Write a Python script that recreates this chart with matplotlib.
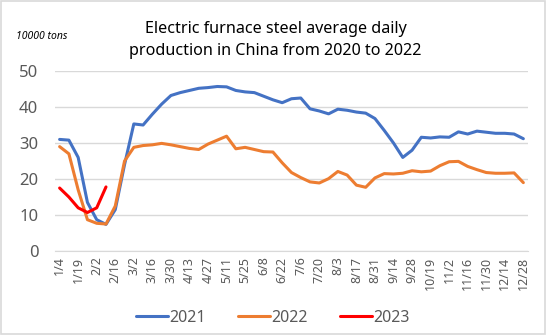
import numpy as np
import matplotlib
matplotlib.use("Agg")
import matplotlib.pyplot as plt
from matplotlib.patches import Rectangle

# --- Data (weekly, 10000 tons) ---
weeks = ["1/4", "1/11", "1/19", "1/26", "2/2", "2/9", "2/16", "2/23",
         "3/2", "3/9", "3/16", "3/23", "3/30", "4/6", "4/13", "4/20",
         "4/27", "5/4", "5/11", "5/18", "5/25", "6/1", "6/8", "6/15",
         "6/22", "6/29", "7/6", "7/13", "7/20", "7/27", "8/3", "8/10",
         "8/17", "8/24", "8/31", "9/7", "9/14", "9/21", "9/28", "10/12",
         "10/19", "10/26", "11/2", "11/9", "11/16", "11/23", "11/30", "12/7",
         "12/14", "12/21", "12/28"]

y2021 = [31.0, 30.8, 26.0, 13.5, 8.7, 7.4, 11.5, 24.0,
         35.3, 35.0, 38.0, 40.8, 43.2, 44.0, 44.6, 45.2,
         45.4, 45.7, 45.6, 44.6, 44.2, 44.0, 43.0, 42.0,
         41.2, 42.3, 42.5, 39.5, 38.9, 38.1, 39.4, 39.1,
         38.6, 38.3, 36.8, 33.5, 30.0, 26.0, 28.0, 31.6,
         31.4, 31.7, 31.6, 33.1, 32.5, 33.3, 33.0, 32.7,
         32.7, 32.5, 31.2]

y2022 = [29.0, 27.0, 17.0, 8.7, 7.7, 7.5, 12.5, 25.0,
         28.8, 29.3, 29.5, 29.9, 29.5, 29.0, 28.5, 28.2,
         29.7, 30.8, 31.9, 28.4, 28.8, 28.2, 27.6, 27.5,
         24.5, 21.8, 20.4, 19.2, 18.9, 20.1, 22.1, 21.1,
         18.3, 17.7, 20.3, 21.5, 21.4, 21.6, 22.3, 22.0,
         22.2, 23.7, 24.8, 24.9, 23.5, 22.6, 21.8, 21.6,
         21.6, 21.7, 19.0]

y2023 = [17.5, 15.0, 12.0, 10.7, 12.0, 17.8]

series = [("2021", y2021, "#4472C4"),
          ("2022", y2022, "#ED7D31"),
          ("2023", y2023, "#FF0000")]

# --- Plot ---
plt.rcParams["font.family"] = ["Noto Sans", "DejaVu Sans"]
fig = plt.figure(figsize=(5.46, 3.35), dpi=100)
ax = fig.add_axes([0.1007, 0.2507, 0.8663, 0.5373])

for name, vals, col in series:
    ax.plot(np.arange(len(vals)), vals, color=col, lw=2.2, label=name,
            solid_joinstyle="round", solid_capstyle="round")

ax.set_xlim(-0.5, len(weeks) - 0.5)
ax.set_ylim(0, 50)
ax.set_yticks(np.arange(0, 51, 10))
ax.set_xticks(np.arange(0, len(weeks), 2))
ax.set_xticklabels(weeks[::2], rotation=90, fontsize=9, color="#595959")
ax.tick_params(axis="y", labelsize=12, colors="#595959", length=0, pad=12)
ax.tick_params(axis="x", length=0, pad=4)
ax.grid(axis="y", color="#D9D9D9", lw=1)
ax.set_axisbelow(True)
for s in ["top", "right", "left"]:
    ax.spines[s].set_visible(False)
ax.spines["bottom"].set_color("#D9D9D9")

fig.text(0.505, 0.881, "Electric furnace steel average daily\nproduction in China from 2020 to 2022",
         ha="center", va="center", fontsize=11.6, color="#000000", linespacing=1.5)
fig.text(0.03, 0.892, "10000 tons", fontsize=7.5, style="italic", color="#000000",
         va="center")

fig.legend(loc="center", bbox_to_anchor=(0.5, 0.052), ncol=3, frameon=False,
           fontsize=11.5, handlelength=2.0, handletextpad=0.1, columnspacing=2.0,
           labelcolor="#595959")

fig.patches.append(Rectangle((0.001, 0.002), 0.997, 0.995, transform=fig.transFigure,
                             fill=False, edgecolor="#D9D9D9", lw=1.2))

plt.savefig("out.png", dpi=100)
